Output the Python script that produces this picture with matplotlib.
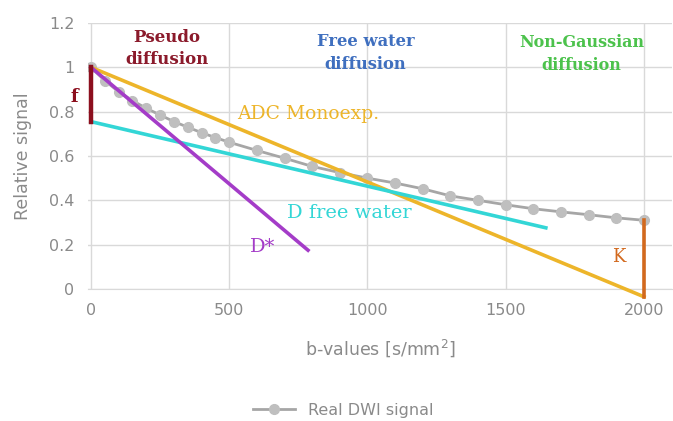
import matplotlib.pyplot as plt

# measured DWI signal
b_values = [0, 50, 100, 150, 200, 250, 300, 350, 400, 450, 500,
            600, 700, 800, 900, 1000, 1100, 1200, 1300, 1400, 1500,
            1600, 1700, 1800, 1900, 2000]
signal = [1.0, 0.94, 0.89, 0.85, 0.815, 0.785, 0.755, 0.73, 0.705, 0.683, 0.662,
          0.625, 0.59, 0.553, 0.525, 0.50, 0.478, 0.452, 0.42, 0.40, 0.38,
          0.362, 0.348, 0.335, 0.321, 0.31]

# fitted lines (start, end)
adc_b = [0, 2000]
adc_s = [1.0, -0.035]
dstar_b = [0, 785]
dstar_s = [1.0, 0.175]
dfree_b = [0, 1645]
dfree_s = [0.755, 0.276]
f_b = [0, 0]
f_s = [0.755, 1.0]
k_b = [2000, 2000]
k_s = [-0.035, 0.31]

fig = plt.figure(figsize=(6.73, 4.21), dpi=100)
ax = fig.add_axes([0.131, 0.3135, 0.867, 0.632])

gray = '#8A8A8A'
ax.plot(b_values, signal, color='#A6A6A6', lw=2, marker='o', ms=7,
        markerfacecolor='#BFBFBF', markeredgecolor='#BFBFBF',
        label='Real DWI signal', zorder=2)
ax.plot(adc_b, adc_s, color='#EDB52A', lw=2.6, clip_on=False, zorder=3)
ax.plot(dfree_b, dfree_s, color='#33D6D6', lw=2.6, clip_on=False, zorder=3)
ax.plot(dstar_b, dstar_s, color='#A43CC8', lw=2.6, clip_on=False, zorder=4)
ax.plot(f_b, f_s, color='#8C0F1E', lw=3.2, clip_on=False, zorder=5)
ax.plot(k_b, k_s, color='#D2691E', lw=2.6, clip_on=False, zorder=5)

serif = 'DejaVu Serif'
ax.text(275, 1.085, 'Pseudo\ndiffusion', color='#8B1A2B', fontsize=12,
        fontweight='bold', family=serif, ha='center', va='center', linespacing=1.45)
ax.text(993, 1.065, 'Free water\ndiffusion', color='#3F6FBF', fontsize=11.8,
        fontweight='bold', family=serif, ha='center', va='center', linespacing=1.45)
ax.text(1775, 1.06, 'Non-Gaussian\ndiffusion', color='#4CC24C', fontsize=11.5,
        fontweight='bold', family=serif, ha='center', va='center', linespacing=1.45)
ax.text(530, 0.79, 'ADC Monoexp.', color='#EDB52A', fontsize=13.5,
        family=serif, ha='left', va='center')
ax.text(710, 0.345, 'D free water', color='#33D6D6', fontsize=14,
        family=serif, ha='left', va='center')
ax.text(575, 0.19, 'D*', color='#A43CC8', fontsize=14,
        family=serif, ha='left', va='center')
ax.text(1910, 0.145, 'K', color='#D2691E', fontsize=13,
        family=serif, ha='center', va='center')
ax.text(-60, 0.865, 'f', color='#8C0F1E', fontsize=13, fontweight='bold',
        family=serif, ha='center', va='center')

ax.set_xlim(-10, 2100)
ax.set_ylim(0, 1.2)
ax.set_xticks([0, 500, 1000, 1500, 2000])
ax.set_yticks([0, 0.2, 0.4, 0.6, 0.8, 1.0, 1.2])
ax.set_yticklabels(['0', '0.2', '0.4', '0.6', '0.8', '1', '1.2'])
ax.grid(True, color='#D9D9D9', lw=1)
ax.set_axisbelow(True)
for s in ['top', 'right', 'left']:
    ax.spines[s].set_visible(False)
ax.spines['bottom'].set_color('#D9D9D9')
ax.tick_params(length=0, labelsize=11.5, colors=gray, pad=10)
ax.set_xlabel('b-values [s/mm$^2$]', color=gray, fontsize=12.5, labelpad=14)
ax.set_ylabel('Relative signal', color=gray, fontsize=12.5, labelpad=12)

fig.legend(handles=[ax.lines[0]], loc='center', bbox_to_anchor=(0.51, 0.025),
           frameon=False, fontsize=11.5, labelcolor=gray, handlelength=2.6)

fig.savefig('out.png', dpi=100)
